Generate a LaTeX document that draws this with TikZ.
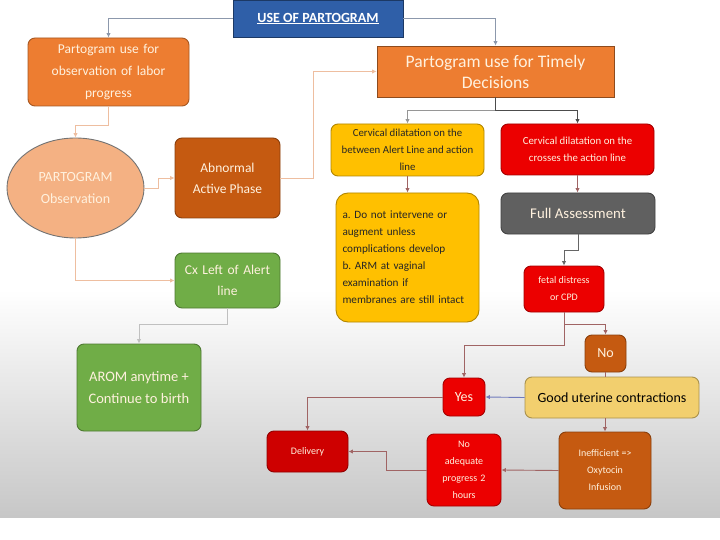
\documentclass[tikz,border=0pt]{standalone}
\usepackage{fontspec}
\setmainfont{Carlito}
\frenchspacing
\usetikzlibrary{arrows.meta, positioning, shapes.geometric, calc}
\definecolor{titleblue}{RGB}{47, 95, 168}
\definecolor{partorange}{RGB}{237, 125, 49}
\definecolor{salmon}{RGB}{244, 177, 131}
\definecolor{rust}{RGB}{197, 90, 17}
\definecolor{leafgreen}{RGB}{112, 173, 71}
\definecolor{gold}{RGB}{255, 192, 0}
\definecolor{alarmred}{RGB}{236, 0, 0}
\definecolor{deepred}{RGB}{206, 0, 0}
\definecolor{slate}{RGB}{96, 96, 96}
\definecolor{paleGold}{RGB}{242, 207, 110}
\definecolor{cream}{RGB}{255, 241, 222}
\definecolor{linkblue}{RGB}{140, 152, 172}
\definecolor{linktan}{RGB}{238, 190, 160}
\definecolor{linkgray}{RGB}{150, 150, 150}
\definecolor{linkred}{RGB}{160, 100, 100}

\begin{document}
\begin{tikzpicture}[x=1pt, y=-1pt,
  every node/.style={font=\fontsize{13}{20}\selectfont, align=center, inner sep=3pt, text=cream},
  box/.style={draw=#1!70!black, fill=#1, rounded corners=7pt, line width=0.9pt},
  sqbox/.style={draw=#1!60!black, fill=#1, line width=0.9pt},
  arrow/.style={-{Latex[length=4.5pt, width=4.5pt]}, line width=0.9pt, draw=#1},
  arrow/.default=linkred
]

  % fond
  \fill[white] (0,0) rectangle (720,540);
  \shade[top color=white, bottom color=black!22] (0,290) rectangle (720,517);
  \useasboundingbox (0,0) rectangle (720,540);

  \node[sqbox=titleblue, minimum width=170pt, minimum height=37pt, font=\fontsize{14}{17}\selectfont\bfseries, text=white] (title) at (318,18.5) {\underline{USE OF PARTOGRAM}};

  % branche observation
  \node[box=partorange, minimum width=161pt, minimum height=68pt, text width=150pt, font=\fontsize{13.5}{22}\selectfont] (obsuse) at (108.5,72) {Partogram use for\\ observation of labor\\ progress};
  \node[ellipse, draw=black!55, fill=salmon, line width=0.9pt, minimum width=137pt, minimum height=100pt, font=\fontsize{14}{22}\selectfont] (obs) at (75.5,188) {PARTOGRAM\\ Observation};
  \node[box=rust, minimum width=105pt, minimum height=80pt, font=\fontsize{13.5}{21}\selectfont] (abn) at (227.5,178) {Abnormal\\ Active Phase};
  \node[box=leafgreen, minimum width=105pt, minimum height=55pt, text width=96pt, font=\fontsize{13.5}{21}\selectfont] (cx) at (227.5,280.5) {Cx Left of Alert\\ line};
  \node[box=leafgreen, minimum width=124pt, minimum height=87pt, font=\fontsize{14.5}{22}\selectfont] (arom) at (139,387.5) {AROM anytime +\\ Continue to birth};

  % branche decisions
  \node[sqbox=partorange, minimum width=237pt, minimum height=51pt, font=\fontsize{17.6}{21}\selectfont] (decide) at (495.5,71.5) {Partogram use for Timely\\ Decisions};
  \node[box=gold, minimum width=153pt, minimum height=52pt, text=black!85, font=\fontsize{10.8}{17}\selectfont] (alertzone) at (407.5,150) {Cervical dilatation on the\\ between Alert Line and action\\ line};
  \node[box=alarmred, minimum width=153pt, minimum height=51pt, font=\fontsize{10.8}{17}\selectfont] (actionzone) at (577.5,149.5) {Cervical dilatation on the\\ crosses the action line};
  \node[box=gold, minimum width=143pt, minimum height=129pt, text=black!85, align=left, text width=130pt, rounded corners=12pt, font=\fontsize{11.2}{17}\selectfont] (advice) at (407.5,257.5) {a. Do not intervene or\\ augment unless\\ complications develop\\ b. ARM at vaginal\\ examination if\\ membranes are still intact};
  \node[box=slate, minimum width=154pt, minimum height=41pt, font=\fontsize{14.8}{17}\selectfont] (assess) at (578,213.5) {Full Assessment};
  \node[box=alarmred, minimum width=80pt, minimum height=46pt, font=\fontsize{10}{17}\selectfont] (fetal) at (564,289) {fetal distress\\ or CPD};
  \node[box=rust, minimum width=41pt, minimum height=37pt, font=\fontsize{14}{17}\selectfont] (no) at (605.5,353.5) {No};
  \node[box=paleGold, minimum width=174pt, minimum height=41pt, text=black, font=\fontsize{14}{17}\selectfont] (good) at (612,397.5) {Good uterine contractions};
  \node[box=alarmred, minimum width=42pt, minimum height=38pt, font=\fontsize{14}{17}\selectfont] (yes) at (464,397) {Yes};
  \node[box=deepred, minimum width=81pt, minimum height=41pt, font=\fontsize{10}{17}\selectfont] (delivery) at (307.5,451.5) {Delivery};
  \node[box=alarmred, minimum width=74pt, minimum height=72pt, text width=68pt, font=\fontsize{10}{17}\selectfont] (noprog) at (464,470) {No\\ adequate\\ progress 2\\ hours};
  \node[box=rust, minimum width=92pt, minimum height=77pt, font=\fontsize{10}{17}\selectfont] (oxy) at (605,470.5) {Inefficient =>\\ Oxytocin\\ Infusion};

  \draw[arrow=linkblue] (title.west) -| (obsuse.north);
  \draw[arrow=linkblue] (title.east) -| (decide.north);

  \draw[arrow=linktan] (obsuse.south) -- ++(0,19) -| (obs.north);
  \draw[arrow=linktan] (obs.east) -- ++(14,0) |- (abn.west);
  \draw[arrow=linktan] (abn.east) -- ++(33,0) |- (decide.west);
  \draw[arrow=linktan] (obs.south) |- (cx.west);
  \draw[arrow=linkgray!60] (cx.south) -- ++(0,16) -| (arom.north);

  \draw[arrow=linkgray] (decide.south) -- ++(0,13) -| (alertzone.north);
  \draw[arrow=black!70] (decide.south) -- ++(0,13) -| (actionzone.north);
  \draw[arrow] (alertzone.south) -- (advice.north);
  \draw[arrow] (actionzone.south) -- (actionzone.south |- assess.north);
  \draw[arrow=black!60] (assess.south) -- ++(0,16) -| (fetal.north);
  \draw[arrow] (fetal.south) -- ++(0,12) -| (no.north);
  \draw[arrow] (fetal.south) -- ++(0,33) -| (yes.north);
  \draw[linkred, line width=0.9pt] (no.south) -- (no.south |- good.north);
  \draw[arrow=linkblue!80!blue] (good.west) -- (yes.east);
  \draw[arrow] (oxy.north |- good.south) -- (oxy.north);
  \draw[arrow] (oxy.west) -- (noprog.east);
  \draw[arrow] (noprog.west) -- ++(-40,0) |- (delivery.east);
  \draw[arrow] (yes.west) -| (delivery.north);

\end{tikzpicture}
\end{document}
